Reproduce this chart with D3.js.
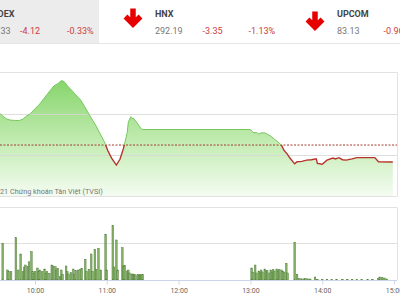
<!DOCTYPE html>
<html lang="vi">
<head>
<meta charset="utf-8">
<script src="https://d3js.org/d3.v7.min.js"></script>
<style>
  body { margin:0; background:#fff; font-family: Roboto, "Noto Sans", sans-serif; }
  svg { display:block; }
</style>
<script>
// index header
var indexNames    = ["VNINDEX", "HNX", "UPCOM"];
var indexValues   = ["1,243.33", "292.19", "83.13"];
var indexChanges  = ["-4.12", "-3.35", "-0.96"];
var indexPercents = ["-0.33%", "-1.13%", "-1.14%"];

// intraday index
var prevClose = 1247.45;
var priceTimes = ["09:15","09:22","09:26","09:31","09:33","09:36","09:39","09:43","09:47","09:50","09:52","09:56",
  "10:00","10:04","10:08","10:12","10:16","10:19","10:22","10:23","10:25","10:27","10:31","10:34","10:38","10:41",
  "10:44","10:47","10:51","10:54","10:58","11:01","11:04","11:08","11:11","11:14","11:17","11:18","11:20","11:21",
  "11:22","11:24","11:27","11:29","11:30","13:00","13:02","13:03","13:05","13:07","13:09","13:12","13:14","13:17",
  "13:20","13:23","13:26","13:28","13:31","13:33","13:37","13:39","13:43","13:47","13:51","13:55","13:56","14:00",
  "14:04","14:09","14:11","14:14","14:17","14:20","14:25","14:29","14:44","14:47","14:59"];
var priceValues = [1254.0,1254.8,1255.2,1255.0,1254.5,1253.8,1253.5,1253.4,1253.4,1253.7,1254.3,1255.0,
  1256.2,1257.4,1258.9,1260.4,1261.8,1262.3,1263.0,1263.0,1262.6,1261.8,1260.6,1259.6,1258.4,1257.0,
  1255.5,1254.0,1252.1,1250.4,1248.2,1246.0,1244.3,1242.6,1244.0,1246.7,1250.4,1253.0,1254.3,1253.8,
  1254.0,1253.3,1252.1,1251.3,1251.2,1251.2,1250.6,1250.4,1250.5,1250.1,1250.4,1250.4,1250.1,1249.6,
  1248.9,1248.2,1247.4,1246.2,1245.2,1244.3,1242.9,1243.4,1243.5,1243.8,1243.9,1244.1,1243.0,1242.8,
  1243.8,1244.3,1244.1,1244.4,1243.9,1243.8,1244.1,1244.4,1244.4,1243.4,1243.33];

// volume (millions)
var volTimes = ["09:33","09:37","09:38","09:40","09:44","09:46","09:48","09:50","09:51","09:52","09:54","09:55",
  "09:57","09:58","09:59","10:00","10:02","10:03","10:04","10:06","10:08","10:09","10:10","10:12","10:14","10:15",
  "10:17","10:18","10:19","10:21","10:22","10:23","10:26","10:27","10:28","10:30","10:32","10:33","10:34","10:36",
  "10:38","10:39","10:42","10:43","10:45","10:47","10:48","10:50","10:51","10:53","10:55","10:59","11:00","11:05",
  "11:06","11:08","11:09","11:13","11:14","11:15","11:17","11:18","11:19","11:21","11:22","11:23","11:24","11:26",
  "11:27","11:28","11:29","11:30",
  "13:01","13:02","13:04","13:05","13:07","13:08","13:09","13:10","13:12","13:13","13:14","13:16","13:17","13:18",
  "13:19","13:20","13:22","13:23","13:24","13:26","13:27","13:28","13:30","13:31","13:37","13:39","13:41","13:43",
  "13:45","13:46","13:48","13:50","13:54","13:56","14:00","14:04","14:08","14:12","14:17","14:21","14:25","14:29",
  "14:33","14:38","14:42","14:47","14:48","14:50","14:52","14:54"];
var volValues = [5.0,1.37,1.14,1.14,5.8,1.37,3.56,1.14,1.78,2.05,1.82,2.5,
  3.88,1.14,0.92,1.14,1.64,1.14,1.37,1.14,1.5,0.92,1.14,0.92,2.05,1.92,
  1.82,1.37,1.6,0.45,1.37,0.78,1.92,1.14,0.82,1.0,1.5,0.78,1.27,1.37,
  1.47,1.6,2.84,1.14,1.47,3.56,1.14,4.2,1.47,4.34,1.37,6.26,1.37,7.49,
  1.78,5.48,1.37,4.42,1.92,1.99,1.23,1.37,0.96,0.82,0.82,0.75,0.68,0.75,
  0.68,0.75,0.68,0.75,
  1.64,1.1,2.05,0.96,1.23,1.1,1.37,1.1,1.5,1.23,1.3,0.96,1.37,1.1,
  1.44,1.23,1.5,1.23,1.44,1.37,1.16,1.1,2.29,0.96,5.14,0.78,0.2,0.16,
  0.16,0.2,0.16,0.14,0.41,0.1,0.1,0.1,0.1,0.1,0.1,0.1,0.1,0.1,
  0.1,0.1,0.1,0.2,0.41,0.34,0.27,0.14];

var timeTicks = ["10:00","11:00","12:00","13:00","14:00","15:00"];

function draw(){
  var width = 400, height = 300;
  var parseT = d3.timeParse("%H:%M");
  var svg = d3.select("body").append("svg").attr("width", width).attr("height", height);

  //---- header
  svg.append("rect").attr("x", 0).attr("y", 0).attr("width", 99).attr("height", 43).attr("fill", "#ececec");
  svg.append("line").attr("x1", 0).attr("x2", width).attr("y1", 43.5).attr("y2", 43.5).attr("stroke", "#e6e6e6");

  var hx   = [14.5, 155, 337];   // name / value left edge
  var cx   = [20, 202.5, 383.5]; // change
  var px   = [67, 248.5, 430];   // percent
  var arrows = [null, [133, 8.5], [315, 11.5]];
  var hdr = svg.append("g").style("font-size", "9px");
  indexNames.forEach(function(n, i){
    var anchor = i === 0 ? "end" : "start";
    hdr.append("text").attr("x", hx[i]).attr("y", 17).attr("text-anchor", anchor)
      .attr("fill", "#444").style("font-weight", "bold").text(n);
    hdr.append("text").attr("x", i === 0 ? 10.5 : hx[i]).attr("y", 33.5).attr("text-anchor", anchor)
      .attr("fill", "#777").text(indexValues[i]);
    hdr.append("text").attr("x", cx[i]).attr("y", 33.5).attr("fill", "#cc3d3d").text(indexChanges[i]);
    hdr.append("text").attr("x", px[i]).attr("y", 33.5).attr("fill", "#cc3d3d").text(indexPercents[i]);
    if (arrows[i]) {
      var a = arrows[i];
      hdr.append("path")
        .attr("d", "M" + a[0] + "," + a[1] + "V" + (a[1] + 15) +
                   "M" + (a[0] - 7.5) + "," + (a[1] + 8) + "L" + a[0] + "," + (a[1] + 15.5) + "L" + (a[0] + 7.5) + "," + (a[1] + 8))
        .attr("fill", "none").attr("stroke", "#e60000").attr("stroke-width", 5.5)
        .attr("stroke-linejoin", "miter");
    }
  });

  //---- scales
  var x = d3.scaleTime().domain([parseT("09:00"), parseT("15:00")]).range([-36.8, 394]);
  var y = d3.scaleLinear().domain([1235, 1265]).range([196.5, 72.5]);
  var yv = d3.scaleLinear().domain([0, 10]).range([280, 207]);
  var right = 397;

  var prices = priceTimes.map(function(t, i){ return { t: parseT(t), v: priceValues[i] }; });
  var vols = volTimes.map(function(t, i){ return { t: parseT(t), v: volValues[i] }; });

  //---- price panel
  var defs = svg.append("defs");
  var grad = defs.append("linearGradient").attr("id", "fillGrad")
    .attr("gradientUnits", "userSpaceOnUse").attr("x1", 0).attr("x2", 0).attr("y1", 78).attr("y2", 196);
  grad.append("stop").attr("offset", 0).attr("stop-color", "#84d468");
  grad.append("stop").attr("offset", 0.55).attr("stop-color", "#c4ecb4");
  grad.append("stop").attr("offset", 1).attr("stop-color", "#f4fcf1");

  var yRef = y(prevClose);
  defs.append("clipPath").attr("id", "clipUp").append("rect")
    .attr("x", 0).attr("y", 0).attr("width", width).attr("height", yRef);
  defs.append("clipPath").attr("id", "clipDown").append("rect")
    .attr("x", 0).attr("y", yRef).attr("width", width).attr("height", height - yRef);

  var area = d3.area().x(function(d){ return x(d.t); }).y0(y.range()[0]).y1(function(d){ return y(d.v); });
  var line = d3.line().x(function(d){ return x(d.t); }).y(function(d){ return y(d.v); });

  svg.append("path").datum(prices).attr("d", area).attr("fill", "url(#fillGrad)");

  // grid
  svg.append("g").selectAll("line").data([1245, 1255]).enter().append("line")
    .attr("x1", 0).attr("x2", right).attr("y1", function(d){ return Math.round(y(d)) + 0.5; })
    .attr("y2", function(d){ return Math.round(y(d)) + 0.5; })
    .attr("stroke", "#d6d6d6").attr("stroke-opacity", 0.8);
  // panel border
  svg.append("path").attr("d", "M0,72.5H" + (right + 0.5) + "V196.5H0")
    .attr("fill", "none").attr("stroke", "#e2e2e2");

  // reference line
  svg.append("line").attr("x1", 0).attr("x2", right).attr("y1", yRef).attr("y2", yRef)
    .attr("stroke", "#a33a2c").attr("stroke-width", 1).attr("stroke-dasharray", "2,1.5");

  svg.append("path").datum(prices).attr("d", line).attr("clip-path", "url(#clipUp)")
    .attr("fill", "none").attr("stroke", "#76c85c").attr("stroke-width", 1);
  svg.append("path").datum(prices).attr("d", line).attr("clip-path", "url(#clipDown)")
    .attr("fill", "none").attr("stroke", "#b5342a").attr("stroke-width", 1.4);

  // credit: "© 20" sits left of the frame, rest fits 0..103
  var credit = svg.append("text").attr("y", 194).attr("fill", "#777").style("font-size", "10px");
  credit.append("tspan").attr("class", "pre").text("© 20");
  credit.append("tspan").attr("class", "rest").text("21 Chứng khoán Tân Việt (TVSI)");
  var restLen = credit.select(".rest").node().getComputedTextLength();
  var fs = 10 * 103 / restLen;
  credit.style("font-size", fs + "px");
  var preLen = credit.select(".pre").node().getComputedTextLength();
  credit.attr("x", -preLen);

  //---- volume panel
  svg.append("path").attr("d", "M0,207.5H" + (right + 0.5) + "V280")
    .attr("fill", "none").attr("stroke", "#e2e2e2");
  svg.append("line").attr("x1", 0).attr("x2", right).attr("y1", 243.5).attr("y2", 243.5)
    .attr("stroke", "#e0e0e0");

  svg.append("g").selectAll("rect").data(vols).enter().append("rect")
    .attr("x", function(d){ return x(d.t) - 0.8; })
    .attr("y", function(d){ return yv(d.v); })
    .attr("width", 1.6)
    .attr("height", function(d){ return yv(0) - yv(d.v); })
    .attr("fill", "#88b56a").attr("stroke", "#527f3a").attr("stroke-width", 0.5);

  // time axis
  var axis = d3.axisBottom(x)
    .tickValues(timeTicks.map(parseT))
    .tickFormat(d3.timeFormat("%H:%M"))
    .tickSize(4).tickSizeOuter(0);
  var gx = svg.append("g").attr("transform", "translate(0,280.5)").call(axis);
  gx.select(".domain").attr("stroke", "#ccd6eb").attr("d", "M0,0H" + right);
  gx.selectAll(".tick line").attr("stroke", "#ccd6eb");
  gx.selectAll(".tick text").attr("fill", "#666").attr("y", 8)
    .style("font-size", "7px").style("font-family", "Roboto, sans-serif");
}
</script>
</head>
<body onload="draw()">
</body>
</html>
